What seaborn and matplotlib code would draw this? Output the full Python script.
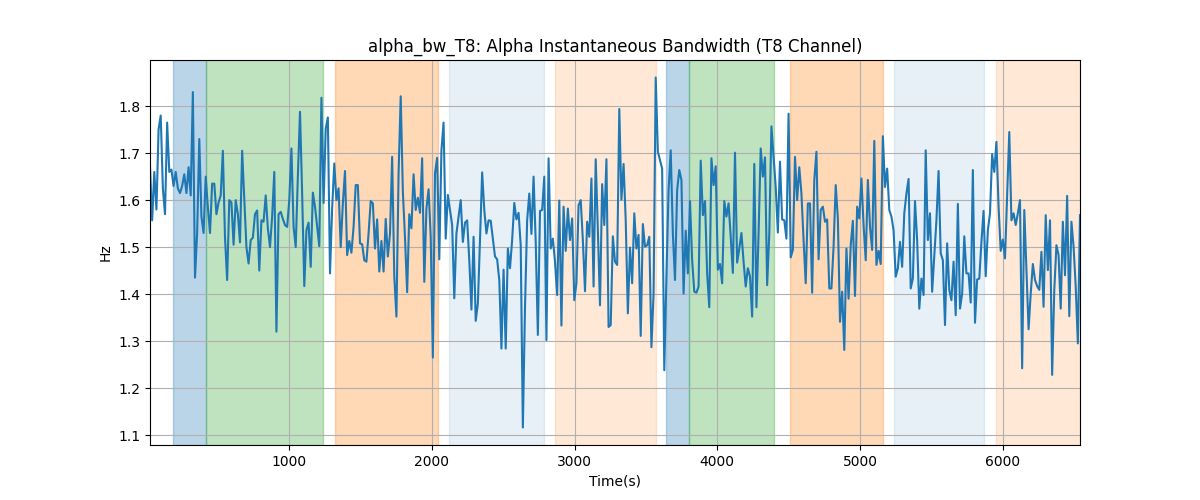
import numpy as np
import matplotlib
matplotlib.use("Agg")
import matplotlib.pyplot as plt
import seaborn as sns

seg1 = [1.672, 1.557, 1.66, 1.58, 1.75, 1.78, 1.625, 1.57, 1.765, 1.66,
        1.665, 1.63, 1.66, 1.625, 1.615, 1.63, 1.655, 1.615, 1.67, 1.61,
        1.83, 1.435, 1.53, 1.73, 1.565, 1.53, 1.65, 1.585, 1.53, 1.635,
        1.635, 1.57, 1.595, 1.61, 1.705, 1.52, 1.43, 1.6, 1.595, 1.505,
        1.6, 1.57, 1.51, 1.705, 1.6, 1.5, 1.465, 1.515, 1.52, 1.57,
        1.578, 1.45, 1.557, 1.554, 1.61, 1.54, 1.5, 1.565, 1.66, 1.32]
seg2 = [1.57, 1.575, 1.56, 1.547, 1.543, 1.6, 1.71, 1.543, 1.5, 1.65,
        1.788, 1.614, 1.417, 1.536, 1.552, 1.458, 1.616, 1.586, 1.543, 1.502,
        1.818, 1.594, 1.752, 1.776, 1.444, 1.582, 1.678, 1.6, 1.625, 1.5,
        1.593, 1.662, 1.483, 1.513, 1.488, 1.543, 1.632, 1.632, 1.508, 1.506,
        1.472, 1.469, 1.529, 1.598, 1.593, 1.497, 1.559, 1.448, 1.513, 1.448,
        1.56, 1.48, 1.529, 1.692, 1.437, 1.352, 1.657, 1.821, 1.618, 1.52,
        1.404, 1.57, 1.54, 1.655, 1.579]
seg3 = [1.605, 1.573, 1.689, 1.426, 1.582, 1.623, 1.522, 1.265, 1.657, 1.69,
        1.474, 1.706, 1.765, 1.518, 1.611, 1.579, 1.547, 1.391, 1.529, 1.565,
        1.6, 1.511, 1.552, 1.557, 1.472, 1.367, 1.522, 1.343, 1.38, 1.515,
        1.659, 1.579, 1.529, 1.557, 1.556, 1.518, 1.48, 1.474, 1.43, 1.284,
        1.452, 1.284, 1.497, 1.455, 1.515, 1.594, 1.559, 1.573, 1.504, 1.116,
        1.372, 1.557, 1.614, 1.528, 1.65, 1.511, 1.313, 1.577, 1.579, 1.65,
        1.302, 1.689, 1.497]
seg4 = [1.518, 1.469, 1.398, 1.599, 1.333, 1.586, 1.492, 1.582, 1.515, 1.561,
        1.387, 1.423, 1.589, 1.6, 1.515, 1.406, 1.554, 1.522, 1.646, 1.416,
        1.687, 1.536, 1.376, 1.634, 1.547, 1.687, 1.33, 1.334, 1.523, 1.469,
        1.462, 1.794, 1.601, 1.677, 1.557, 1.359, 1.499, 1.423, 1.572, 1.497,
        1.526, 1.311, 1.549, 1.501, 1.504, 1.522, 1.287, 1.401, 1.861, 1.703,
        1.685, 1.667, 1.238, 1.437, 1.621, 1.706, 1.529, 1.43, 1.621, 1.664,
        1.643, 1.401, 1.535]
seg5 = [1.444, 1.598, 1.472, 1.405, 1.403, 1.416, 1.684, 1.568, 1.598, 1.444,
        1.372, 1.689, 1.632, 1.672, 1.452, 1.464, 1.423, 1.598, 1.565, 1.593,
        1.522, 1.445, 1.701, 1.467, 1.497, 1.53, 1.469, 1.416, 1.455, 1.437,
        1.352, 1.677, 1.372, 1.529, 1.71, 1.65, 1.691, 1.419, 1.529, 1.757,
        1.692, 1.628, 1.531, 1.682, 1.559, 1.557, 1.518, 1.784, 1.478, 1.494,
        1.692, 1.6, 1.67, 1.614, 1.515, 1.423, 1.593, 1.593, 1.403, 1.643,
        1.703, 1.474, 1.579]
seg6 = [1.586, 1.554, 1.559, 1.412, 1.412, 1.501, 1.632, 1.561, 1.341, 1.405,
        1.281, 1.497, 1.39, 1.504, 1.556, 1.396, 1.586, 1.561, 1.646, 1.547,
        1.472, 1.643, 1.543, 1.494, 1.726, 1.462, 1.492, 1.464, 1.736, 1.628,
        1.667, 1.579, 1.565, 1.536, 1.437, 1.455, 1.511, 1.458, 1.572, 1.614,
        1.645, 1.412, 1.433, 1.598, 1.515, 1.369, 1.433, 1.398, 1.706, 1.515,
        1.572, 1.405, 1.48, 1.557, 1.662, 1.487, 1.472, 1.334, 1.508, 1.409,
        1.387, 1.469, 1.355, 1.592]
seg7 = [1.369, 1.401, 1.523, 1.444, 1.444, 1.382, 1.664, 1.339, 1.431,
        1.433, 1.511, 1.577, 1.438, 1.536, 1.572, 1.698, 1.66, 1.724, 1.586,
        1.492, 1.516, 1.476, 1.611, 1.745, 1.557, 1.572, 1.547, 1.572, 1.6,
        1.242, 1.579, 1.451, 1.325, 1.401, 1.464, 1.43, 1.417, 1.409, 1.49,
        1.373, 1.568, 1.451, 1.557, 1.228, 1.409, 1.504, 1.483, 1.369, 1.554,
        1.44, 1.609, 1.353, 1.554, 1.501, 1.416, 1.295, 1.568]

bw = np.array(seg1 + seg2 + seg3 + seg4 + seg5 + seg6 + seg7)
t_start, t_end = 27, 6540
time = np.linspace(t_start, t_end, len(bw))

# интервалы (начало, конец, цвет, прозрачность)
span_start = [186, 420, 1323, 2123, 2860, 3639, 3802, 4509, 5239, 5954]
span_end = [420, 1236, 2043, 2789, 3573, 3802, 4396, 5159, 5868, 6540]
span_color = ['tab:blue', 'tab:green', 'tab:orange', 'tab:blue', 'tab:orange',
              'tab:blue', 'tab:green', 'tab:orange', 'tab:blue', 'tab:orange']
span_alpha = [0.3, 0.3, 0.3, 0.11, 0.17, 0.3, 0.3, 0.3, 0.11, 0.17]

fig, ax = plt.subplots(figsize=(12, 5), dpi=100)
for s, e, c, a in zip(span_start, span_end, span_color, span_alpha):
    ax.axvspan(s, e, color=c, alpha=a)

sns.lineplot(x=time, y=bw, ax=ax, color='tab:blue', linewidth=1.5)
ax.set_xlim(time.min(), time.max())
ax.grid(True)
ax.set_title('alpha_bw_T8: Alpha Instantaneous Bandwidth (T8 Channel)')
ax.set_xlabel('Time(s)')
ax.set_ylabel('Hz')

plt.savefig('out.png')
